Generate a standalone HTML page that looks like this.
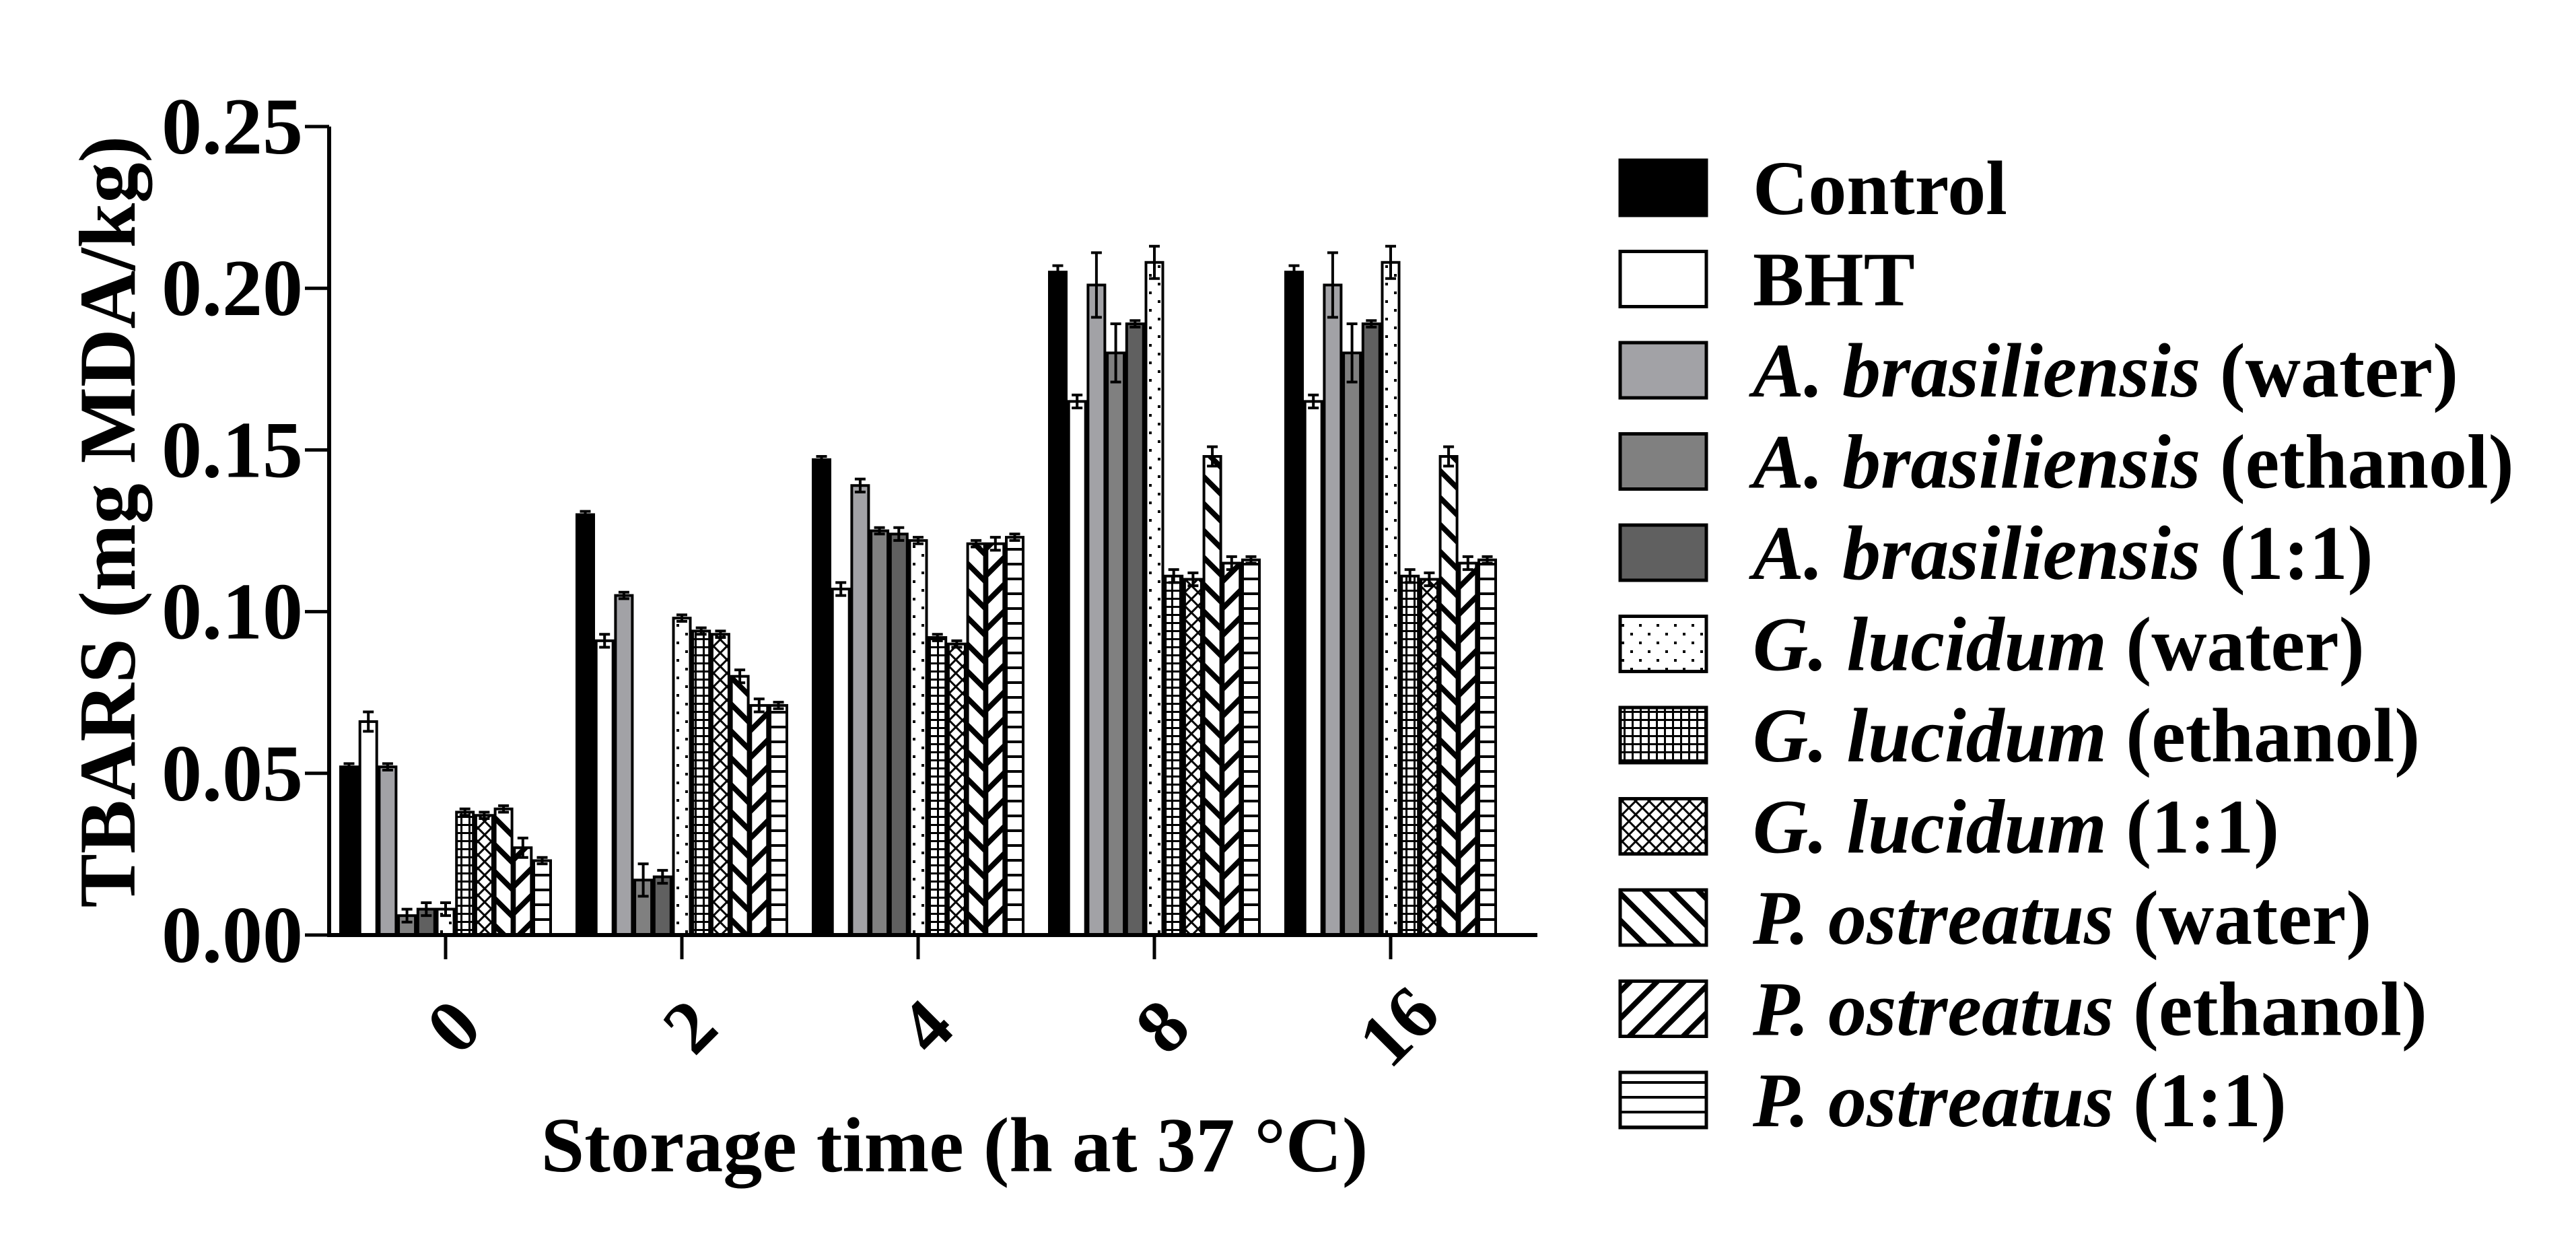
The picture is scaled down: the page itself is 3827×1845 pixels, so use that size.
<!DOCTYPE html>
<html><head><meta charset="utf-8"><style>
html,body{margin:0;padding:0;background:#fff;}
svg{display:block;font-family:"Liberation Serif",serif;font-weight:bold;}
</style></head><body>
<svg id="chart" width="3827" height="1845" viewBox="0 0 3827 1845" xmlns="http://www.w3.org/2000/svg">
<defs>
<pattern id="p-dots" patternUnits="userSpaceOnUse" width="26" height="26"><rect width="26" height="26" fill="#fff"/><rect x="4" y="4" width="4" height="4" fill="#000"/><rect x="17" y="17" width="4" height="4" fill="#000"/></pattern>
<pattern id="p-grid" patternUnits="userSpaceOnUse" width="12" height="12"><rect width="12" height="12" fill="#fff"/><rect x="0" y="0" width="12" height="3" fill="#000"/><rect x="0" y="0" width="3" height="12" fill="#000"/></pattern>
<pattern id="p-cross" patternUnits="userSpaceOnUse" width="20" height="20"><rect width="20" height="20" fill="#fff"/><path d="M0,0L20,20M20,0L0,20" stroke="#000" stroke-width="3"/></pattern>
<pattern id="p-back" patternUnits="userSpaceOnUse" width="40" height="40"><rect width="40" height="40" fill="#fff"/><path d="M-10,-10L50,50M-10,30L10,50M30,-10L50,10" stroke="#000" stroke-width="8"/></pattern>
<pattern id="p-fwd" patternUnits="userSpaceOnUse" width="40" height="40"><rect width="40" height="40" fill="#fff"/><path d="M-10,50L50,-10M-10,10L10,-10M30,50L50,30" stroke="#000" stroke-width="8"/></pattern>
<pattern id="p-horiz" patternUnits="userSpaceOnUse" width="20" height="22"><rect width="20" height="22" fill="#fff"/><rect x="0" y="0" width="20" height="4" fill="#000"/></pattern>
</defs>
<g id="plot"></g>
<text x="0" y="0" font-size="120" text-anchor="middle" transform="translate(200,775) rotate(-90)">TBARS (mg MDA/kg)</text>
<text x="1418" y="1740" font-size="116" text-anchor="middle">Storage time (h at 37 °C)</text>
<g id="legend"></g>
</svg>
<script>
const categories = ["0","2","4","8","16"];
const seriesNames = ["Control","BHT","A. brasiliensis|(water)","A. brasiliensis|(ethanol)","A. brasiliensis|(1:1)","G. lucidum|(water)","G. lucidum|(ethanol)","G. lucidum|(1:1)","P. ostreatus|(water)","P. ostreatus|(ethanol)","P. ostreatus|(1:1)"];
const fills = ["#000","#fff","#a2a2a6","#808080","#606060","url(#p-dots)","url(#p-grid)","url(#p-cross)","url(#p-back)","url(#p-fwd)","url(#p-horiz)"];
const values_t0 = [0.052,0.066,0.052,0.006,0.008,0.008,0.038,0.037,0.039,0.027,0.023];
const values_t2 = [0.130,0.091,0.105,0.017,0.018,0.098,0.094,0.093,0.080,0.071,0.071];
const values_t4 = [0.147,0.107,0.139,0.125,0.124,0.122,0.092,0.090,0.121,0.121,0.123];
const values_t8 = [0.205,0.165,0.201,0.180,0.189,0.208,0.111,0.110,0.148,0.115,0.116];
const values_t16 = [0.205,0.165,0.201,0.180,0.189,0.208,0.111,0.110,0.148,0.115,0.116];
const errors_t0 = [0.001,0.003,0.001,0.002,0.002,0.002,0.001,0.001,0.001,0.003,0.001];
const errors_t2 = [0.001,0.002,0.001,0.005,0.002,0.001,0.001,0.001,0.002,0.002,0.001];
const errors_t4 = [0.001,0.002,0.002,0.001,0.002,0.001,0.001,0.001,0.001,0.002,0.001];
const errors_t8 = [0.002,0.002,0.010,0.009,0.001,0.005,0.002,0.002,0.003,0.002,0.001];
const errors_t16 = [0.002,0.002,0.010,0.009,0.001,0.005,0.002,0.002,0.003,0.002,0.001];
const yTicks = [0,0.05,0.10,0.15,0.20,0.25];
const yTickLabels = ["0.00","0.05","0.10","0.15","0.20","0.25"];

const values = [values_t0,values_t2,values_t4,values_t8,values_t16];
const errors = [errors_t0,errors_t2,errors_t4,errors_t8,errors_t16];
const NS = "http://www.w3.org/2000/svg";
const X0 = 489, X1 = 2284, Y0 = 1389, Y1 = 188;
function yScale(v){ return Y0 - (v/0.25)*(Y0-Y1); }
function xCenter(i){ return 662 + i*351; }
const step = 28.7, bw = 25;
function el(tag, attrs, parent){ const e=document.createElementNS(NS,tag); for(const k in attrs) e.setAttribute(k,attrs[k]); parent.appendChild(e); return e; }
const plot = document.getElementById('plot');

categories.forEach((c,gi)=>{
  values[gi].forEach((v,si)=>{
    const cx = xCenter(gi) + (si-5)*step;
    const y = yScale(v);
    const r = el('rect',{x:cx-bw/2,y:y,width:bw,height:Y0-y,fill:fills[si],stroke:'#000','stroke-width':4},plot);
    
    
    const e = errors[gi][si];
    const g = el('path',{d:`M${cx},${yScale(v+e)}V${yScale(v-e)}M${cx-8},${yScale(v+e)}h16M${cx-8},${yScale(v-e)}h16`,stroke:'#000','stroke-width':4,fill:'none'},plot);
    
    
  });
  const t = el('line',{x1:xCenter(gi),x2:xCenter(gi),y1:Y0,y2:Y0+36,stroke:'#000','stroke-width':5},plot);
  
  
  const lx = xCenter(gi)+12, ly = 1525;
  const tl = el('text',{x:lx,y:ly,'font-size':112,'text-anchor':'middle','dominant-baseline':'central',transform:`rotate(-45 ${lx} ${ly})`},plot);
  tl.textContent = c;
  
  
});
const ya = el('path',{d:`M${X0},${Y1}V${Y0}`,stroke:'#000','stroke-width':6,fill:'none'},plot);


const xa = el('path',{d:`M${X0-3},${Y0}H${X1}`,stroke:'#000','stroke-width':6,fill:'none'},plot);


yTicks.forEach((v,i)=>{
  const t = el('line',{x1:X0-36,x2:X0,y1:yScale(v),y2:yScale(v),stroke:'#000','stroke-width':5},plot);
  
  
  const tl = el('text',{x:450,y:yScale(v)+40,'font-size':120,'text-anchor':'end'},plot);
  tl.textContent = yTickLabels[i];
  
  
});

const legend = document.getElementById('legend');
seriesNames.forEach((n,si)=>{
  const y = 238 + si*135.5;
  const sw = el('rect',{x:2407,y:y,width:128,height:82,fill:fills[si],stroke:'#000','stroke-width':5},legend);
  
  
  const t = el('text',{x:2604,y:y+80,'font-size':114},legend);
  
  
  const parts = n.split('|');
  if(parts.length===2){
    const a = el('tspan',{'font-style':'italic'},t); a.textContent = parts[0]+' ';
    const b = el('tspan',{},t); b.textContent = parts[1];
  } else t.textContent = n;
});
</script>
</body></html>
